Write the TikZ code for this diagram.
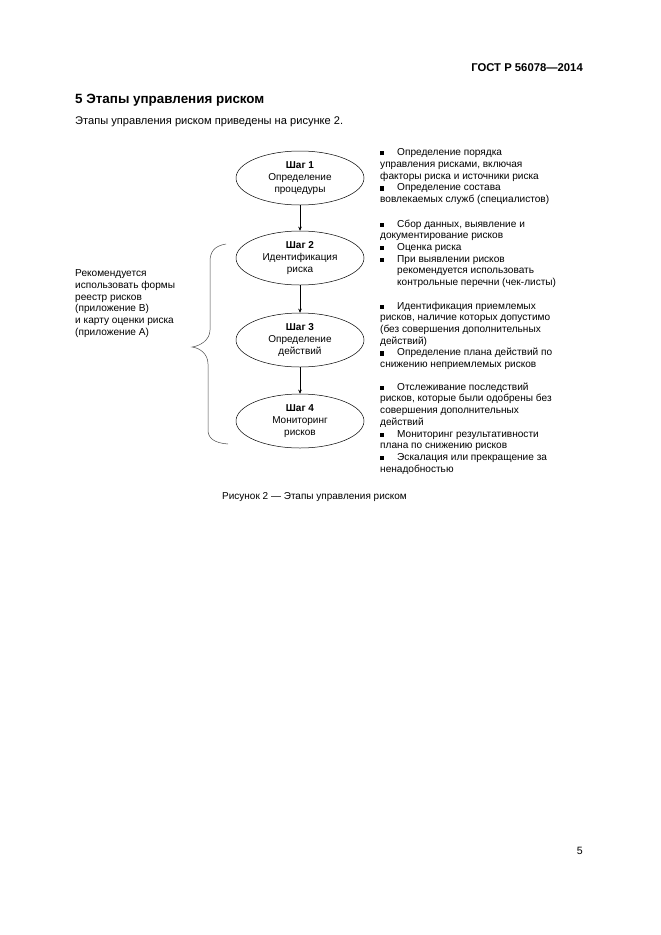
\documentclass[tikz,border=0pt]{standalone}
\usepackage{fontspec}
\setmainfont{Liberation Sans}
\usetikzlibrary{shapes.geometric,arrows.meta}
\newcommand{\bsq}{\makebox[17pt][l]{\raisebox{0.3pt}{\rule{4.2pt}{4.2pt}}}}
\newcommand{\hind}{\hspace*{17pt}}
\begin{document}
\begin{tikzpicture}[x=1pt,y=-1pt,
  txt/.style={font=\fontsize{10.1}{11.7}\selectfont, align=left, inner sep=0, anchor=north west},
  stepbox/.style={draw, line width=0.5pt, ellipse, minimum width=128pt, minimum height=54pt, inner sep=0, font=\fontsize{10}{12}\selectfont, align=center},
  link/.style={-{Stealth[length=4pt,width=3.5pt]}, line width=0.5pt},
  bracestyle/.style={draw=black!70, line width=0.5pt}]
\useasboundingbox[fill=white] (0,0) rectangle (661,935);

% header
\node[anchor=east, inner sep=0, font=\bfseries\fontsize{11.3}{13}\selectfont] (hdr) at (583,68) {ГОСТ Р 56078—2014};
\node[anchor=west, inner sep=0, font=\bfseries\fontsize{13.4}{15}\selectfont] (sec) at (75,100) {5 Этапы управления риском};
\node[anchor=west, inner sep=0, font=\fontsize{11.1}{13}\selectfont] (intro) at (75,122) {Этапы управления риском приведены на рисунке 2.};

% steps
\node[stepbox] (s1) at (300,178) {\textbf{Шаг 1}\\Определение\\процедуры};
\node[stepbox] (s2) at (300,258) {\textbf{Шаг 2}\\Идентификация\\риска};
\node[stepbox] (s3) at (300,340) {\textbf{Шаг 3}\\Определение\\действий};
\node[stepbox] (s4) at (300,421) {\textbf{Шаг 4}\\Мониторинг\\рисков};

\draw[link] (s1) -- (s2);
\draw[link] (s2) -- (s3);
\draw[link] (s3) -- (s4);

% brace
\draw[bracestyle] (226,244) .. controls (214,246) and (210,252) .. (210,262) -- (210,330)
  .. controls (210,340) and (200,346) .. (192,347)
  .. controls (200,348) and (208,354) .. (208,364) -- (208,430)
  .. controls (208,438) and (214,443) .. (228,444);

% left note
\node[txt] (note) at (75,269.5) {Рекомендуется\\использовать формы\\реестр рисков\\(приложение В)\\и карту оценки риска\\(приложение А)};

% right blocks
\node[txt] (b1) at (380,148.5) {\bsq Определение порядка\\управления рисками, включая\\факторы риска и источники риска\\\bsq Определение состава\\вовлекаемых служб (специалистов)};
\node[txt] (b2) at (380,219.5) {\bsq Сбор данных, выявление и\\документирование рисков\\\bsq Оценка риска\\\bsq При выявлении рисков\\\hind рекомендуется использовать\\\hind контрольные перечни (чек-листы)};
\node[txt] (b3) at (380,301.5) {\bsq Идентификация приемлемых\\рисков, наличие которых допустимо\\(без совершения дополнительных\\действий)\\\bsq Определение плана действий по\\снижению неприемлемых рисков};
\node[txt] (b4) at (380,382.5) {\bsq Отслеживание последствий\\рисков, которые были одобрены без\\совершения дополнительных\\действий\\\bsq Мониторинг результативности\\плана по снижению рисков\\\bsq Эскалация или прекращение за\\ненадобностью};

% caption and page number
\node[anchor=west, inner sep=0, font=\fontsize{10}{12}\selectfont] (cap) at (222,497) {Рисунок 2 — Этапы управления риском};
\node[anchor=east, inner sep=0, font=\fontsize{10.6}{13}\selectfont] (pg) at (583,851) {5};
\end{tikzpicture}
\end{document}
